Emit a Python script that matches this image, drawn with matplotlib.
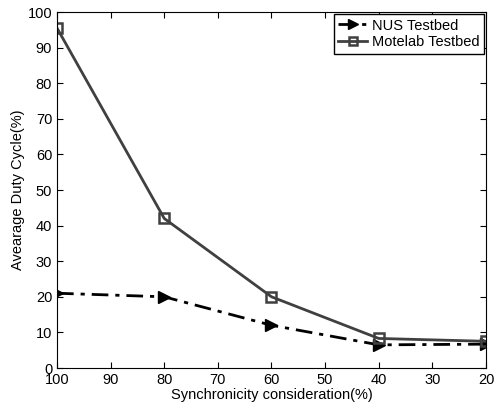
import matplotlib
matplotlib.use("Agg")
import matplotlib.pyplot as plt

plt.rcParams["font.family"] = ["Liberation Sans", "DejaVu Sans"]

sync = [100, 80, 60, 40, 20]
nus = [21.0, 20.0, 12.0, 6.5, 6.7]
motelab = [95.5, 42.0, 20.0, 8.3, 7.5]

fig = plt.figure(figsize=(4.95, 4.07), dpi=100)
ax = fig.add_axes([57 / 495, 39 / 407, 429 / 495, 356 / 407])

ax.plot(sync, nus, color="black", linestyle=(0, (6, 2.5, 1.5, 2.5)), linewidth=2,
        marker=">", markersize=9, markerfacecolor="black", label="NUS Testbed")
ax.plot(sync, motelab, color="#404040", linestyle="-", linewidth=2,
        marker="s", markersize=7, markerfacecolor="none", markeredgewidth=1.8,
        label="Motelab Testbed")

ax.set_xlim(100, 20)
ax.set_ylim(0, 100)
ax.set_xticks(range(100, 19, -10))
ax.set_yticks(range(0, 101, 10))
ax.tick_params(direction="in", top=True, right=True, labelsize=10.5, length=4)
ax.set_xlabel("Synchronicity consideration(%)", fontsize=10.5, labelpad=1)
ax.set_ylabel("Avearage Duty Cycle(%)", fontsize=10.5, labelpad=2)

leg = ax.legend(loc="upper right", fontsize=10.5, fancybox=False, edgecolor="black",
                framealpha=1, handlelength=2.0, borderpad=0.3, labelspacing=0.2,
                handletextpad=0.3, borderaxespad=0.15, markerscale=0.8)
leg.get_frame().set_linewidth(1.0)

fig.savefig("out.png", dpi=100)
